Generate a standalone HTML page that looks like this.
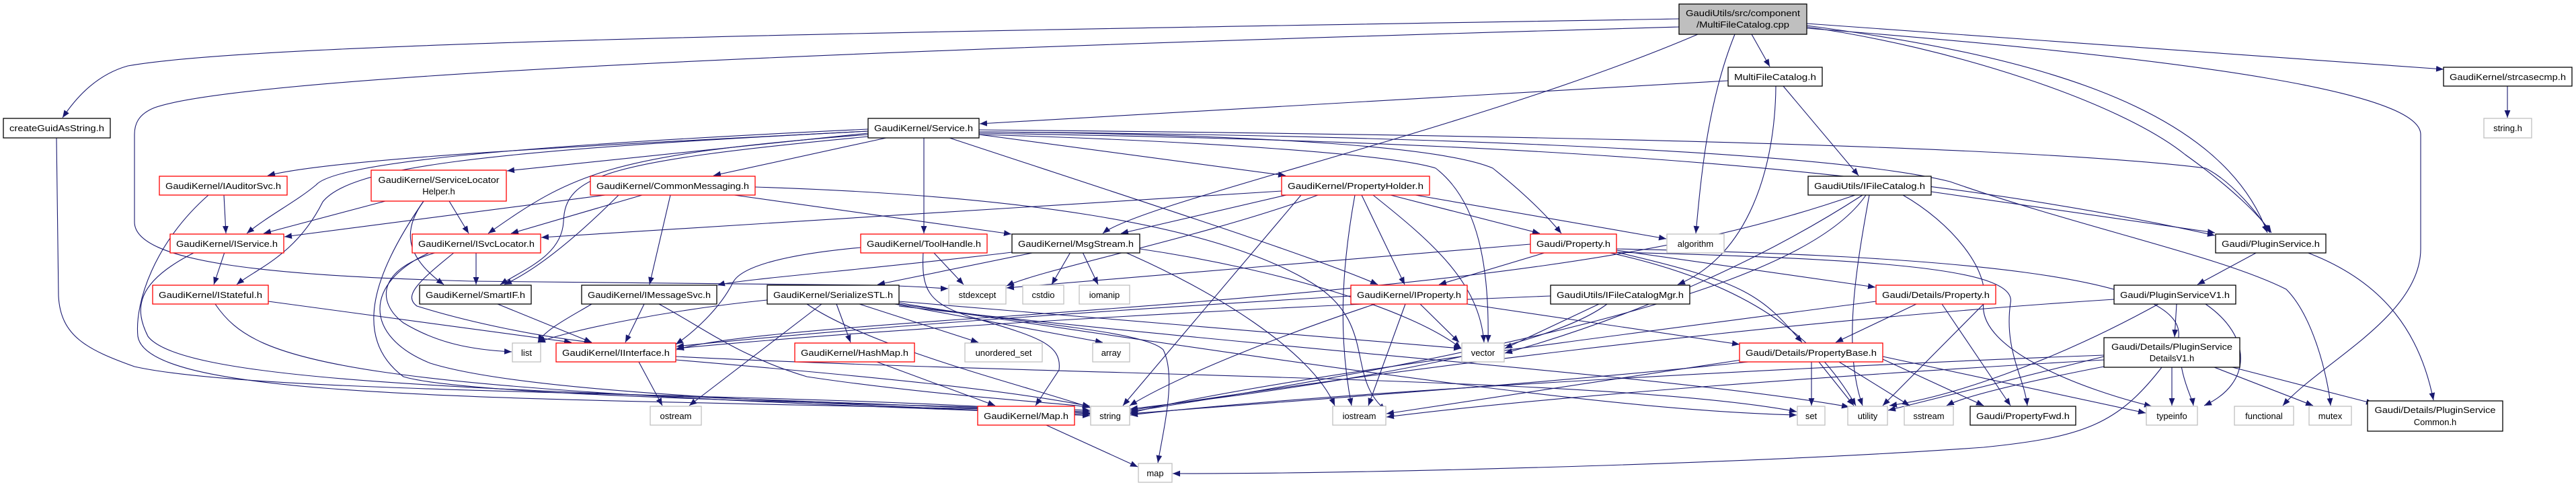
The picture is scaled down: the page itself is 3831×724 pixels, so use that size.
<!DOCTYPE html>
<html><head><meta charset="utf-8"><style>
html,body{margin:0;padding:0;background:#fff;width:3831px;height:724px;overflow:hidden}
svg text{font-family:"Liberation Sans",sans-serif;font-size:13px;fill:#000}
</style></head><body>
<svg width="3831" height="724" viewBox="0 0 3831 724" xmlns="http://www.w3.org/2000/svg">
<defs><marker id="a" viewBox="0 0 10 8" refX="10" refY="4" markerWidth="11" markerHeight="9" markerUnits="userSpaceOnUse" orient="auto"><path d="M0,0 L10,4 L0,8 z" fill="#191970"/></marker></defs>
<g fill="none" stroke="#191970" stroke-width="1.1" marker-end="url(#a)">
<path d="M2497,28 C1500,45 400,60 190,98 C140,112 110,150 93,175"/>
<path d="M2497,40 C1800,60 400,100 230,160 C205,170 200,185 200,200 L200,330 C200,390 400,410 700,418 L1300,424 C1380,426 1400,429 1410,429"/>
<path d="M2525,51 C2200,190 1700,300 1640,347"/>
<path d="M2580,51 C2540,150 2530,260 2522,347"/>
<path d="M2605,51 L2632,99"/>
<path d="M2687,35 L3634,103"/>
<path d="M2687,38 C3000,80 3300,150 3372,346"/>
<path d="M2687,40 C2900,70 3150,150 3250,230 C3320,280 3360,320 3378,346"/>
<path d="M2687,42 C3300,90 3600,140 3600,200 L3600,370 C3600,470 3450,540 3395,603"/>
<path d="M2570,120 L1457,184"/>
<path d="M2652,128 L2764,261"/>
<path d="M2641,128 C2640,250 2600,380 2495,423"/>
<path d="M1291,195 C900,215 500,235 398,261"/>
<path d="M1291,198 L754,254"/>
<path d="M1291,192 C800,215 500,240 470,275 C440,300 400,320 367,347"/>
<path d="M1291,195 C700,225 520,250 480,300 C440,380 380,400 352,423"/>
<path d="M1291,200 C900,230 850,260 726,347"/>
<path d="M1291,203 C900,240 840,260 838,330 C835,380 780,400 744,423"/>
<path d="M1318,205 L1061,261"/>
<path d="M1374,205 L1374,347"/>
<path d="M1456,200 L1912,261"/>
<path d="M1412,205 C1700,300 1950,380 2049,423"/>
<path d="M1456,200 C1800,210 2070,230 2135,250 C2200,300 2215,400 2213,509"/>
<path d="M1456,196 C1900,200 2150,220 2220,250 C2270,290 2300,320 2322,347"/>
<path d="M1456,193 C2200,200 3000,215 3280,250 C3320,270 3360,320 3376,346"/>
<path d="M1456,196 C2000,200 2700,220 2900,270 C3100,340 3300,380 3400,430 C3440,470 3462,560 3466,603"/>
<path d="M1456,198 C2200,210 2800,240 3294,350"/>
<path d="M1906,284 L805,353"/>
<path d="M1913,290 L1667,347"/>
<path d="M1935,290 L1670,603"/>
<path d="M2025,290 L2089,423"/>
<path d="M2068,290 L2290,347"/>
<path d="M2105,290 L2478,355"/>
<path d="M2015,290 C1995,400 1990,500 2010,603"/>
<path d="M2042,290 C2130,360 2200,420 2207,509"/>
<path d="M1960,290 C1800,350 1550,400 1497,425"/>
<path d="M1505,375 C1300,400 1100,415 1067,424"/>
<path d="M900,290 L423,352"/>
<path d="M955,290 L760,347"/>
<path d="M920,290 C860,350 800,400 750,423"/>
<path d="M997,290 L966,423"/>
<path d="M1092,290 L1504,348"/>
<path d="M1123,278 C1500,290 1800,330 1950,420 C2050,480 2000,560 2061,610"/>
<path d="M573,299 L392,347"/>
<path d="M668,299 L697,347"/>
<path d="M630,299 C600,340 600,380 660,423"/>
<path d="M630,299 C560,400 520,500 600,560 C700,590 1300,600 1621,610"/>
<path d="M310,290 C230,360 200,450 205,500 C220,600 800,590 1621,612"/>
<path d="M333,290 L336,347"/>
<path d="M290,375 C200,420 200,460 220,500 C280,580 900,580 1621,614"/>
<path d="M334,375 L318,423"/>
<path d="M399,448 L850,509"/>
<path d="M320,452 C380,540 500,580 1621,616"/>
<path d="M708,375 L708,423"/>
<path d="M650,375 C560,400 560,450 600,480 C650,510 700,520 761,523"/>
<path d="M640,375 C540,420 540,500 640,540 C800,590 1300,600 1621,618"/>
<path d="M676,375 C620,420 600,440 620,455 C700,480 800,500 880,509"/>
<path d="M740,452 L880,509"/>
<path d="M958,452 L930,509"/>
<path d="M980,452 C1050,490 1100,530 1200,560 C1400,590 1600,600 1621,606"/>
<path d="M880,452 C850,470 810,490 800,509"/>
<path d="M950,538 L985,603"/>
<path d="M1005,535 C1300,560 1500,580 1621,604"/>
<path d="M1005,530 C1600,560 2400,560 2672,612"/>
<path d="M1388,375 L1433,423"/>
<path d="M1280,368 C1150,380 1100,400 1090,420 C1070,460 1030,495 1005,512"/>
<path d="M1373,375 C1370,430 1380,450 1440,470 C1540,500 1580,510 1575,550 L1540,603"/>
<path d="M1540,375 L1305,423"/>
<path d="M1592,375 L1564,423"/>
<path d="M1610,375 L1633,423"/>
<path d="M1673,375 C1800,430 1950,520 1985,603"/>
<path d="M1695,370 C1900,400 2100,460 2173,518"/>
<path d="M1244,452 L1265,509"/>
<path d="M1278,452 L1455,509"/>
<path d="M1320,450 L1640,509"/>
<path d="M1222,452 L1025,603"/>
<path d="M1337,450 C1500,480 1700,490 1730,520 C1750,560 1730,640 1722,688"/>
<path d="M1337,448 L2173,518"/>
<path d="M1141,446 C1000,460 850,490 800,509"/>
<path d="M1200,452 C1300,520 1550,580 1621,606"/>
<path d="M1337,452 C2000,550 2400,610 2672,617"/>
<path d="M1337,455 C1900,520 2500,560 2750,605"/>
<path d="M1304,538 L1480,603"/>
<path d="M1556,632 L1692,694"/>
<path d="M2300,375 L2140,423"/>
<path d="M2404,372 L2789,427"/>
<path d="M2404,375 C2600,420 2620,440 2680,509"/>
<path d="M2404,375 C2800,385 3000,400 2990,450 C2980,520 3010,560 3015,603"/>
<path d="M2276,363 L1497,428"/>
<path d="M2390,375 C2600,420 2700,500 2760,603"/>
<path d="M2404,370 C2900,380 3250,410 3240,500 C3240,560 3260,590 3262,603"/>
<path d="M2112,452 L2170,509"/>
<path d="M2090,452 L2035,603"/>
<path d="M2045,452 C1900,500 1750,560 1680,603"/>
<path d="M2182,452 L2587,512"/>
<path d="M2009,440 C1500,470 1200,495 1006,515"/>
<path d="M2378,452 L2238,518"/>
<path d="M2390,452 C2300,520 2000,570 1681,608"/>
<path d="M2306,440 C1800,460 1300,490 1006,518"/>
<path d="M2872,285 L3294,346"/>
<path d="M2759,290 C2500,380 2200,420 1500,470 C1200,490 1050,505 1006,520"/>
<path d="M2770,290 C2600,400 2400,480 2238,525"/>
<path d="M2775,290 C2700,400 2400,500 1681,612"/>
<path d="M2830,290 C2900,330 2960,400 2950,450 C2940,520 3100,580 3200,604"/>
<path d="M2780,290 C2760,400 2740,520 2770,603"/>
<path d="M2850,452 L2730,509"/>
<path d="M2950,452 L2800,603"/>
<path d="M2888,452 L2990,603"/>
<path d="M2790,448 C2400,500 1900,560 1681,614"/>
<path d="M2694,538 L2694,603"/>
<path d="M2705,538 L2757,603"/>
<path d="M2735,538 L2840,603"/>
<path d="M2800,534 L2950,603"/>
<path d="M2800,530 L3191,614"/>
<path d="M2600,538 C2300,570 2000,590 1681,615"/>
<path d="M2590,535 L2062,615"/>
<path d="M3357,375 L3268,423"/>
<path d="M3430,375 C3550,420 3600,500 3619,595"/>
<path d="M3237,452 L3234,501"/>
<path d="M3280,452 C3350,500 3350,570 3278,603"/>
<path d="M3144,445 C2600,480 2000,560 1681,610"/>
<path d="M3210,452 C3050,540 2900,590 2810,603"/>
<path d="M3230,546 L3230,603"/>
<path d="M3293,546 L3440,603"/>
<path d="M3320,546 L3530,600"/>
<path d="M3215,546 C3150,630 3100,650 2950,665 C2600,690 2000,705 1744,704"/>
<path d="M3129,528 C2800,540 2000,580 1681,617"/>
<path d="M3129,530 L2808,610"/>
<path d="M3129,545 C3000,570 2920,590 2895,603"/>
<path d="M3129,535 C2700,560 2300,590 2062,620"/>
<path d="M3729,128 L3729,175"/>
<path d="M84,205 L87,440 C90,500 130,520 200,545 C400,590 1200,580 1621,615"/>
</g>
<g stroke-width="1.3">
<rect x="5" y="176" width="159" height="29" fill="#fff" stroke="#000"/><text x="84.5" y="195" text-anchor="middle" textLength="141" lengthAdjust="spacingAndGlyphs">createGuidAsString.h</text>
<rect x="237" y="262" width="190" height="28" fill="#fff" stroke="#f00"/><text x="332" y="281" text-anchor="middle" textLength="172" lengthAdjust="spacingAndGlyphs">GaudiKernel/IAuditorSvc.h</text>
<rect x="552" y="253" width="201" height="46" fill="#fff" stroke="#f00"/><text x="652.5" y="272" text-anchor="middle" textLength="180" lengthAdjust="spacingAndGlyphs">GaudiKernel/ServiceLocator</text><text x="652.5" y="289" text-anchor="middle">Helper.h</text>
<rect x="253" y="348" width="169" height="28" fill="#fff" stroke="#f00"/><text x="337.5" y="367" text-anchor="middle" textLength="151" lengthAdjust="spacingAndGlyphs">GaudiKernel/IService.h</text>
<rect x="613" y="348" width="191" height="28" fill="#fff" stroke="#f00"/><text x="708.5" y="367" text-anchor="middle" textLength="173" lengthAdjust="spacingAndGlyphs">GaudiKernel/ISvcLocator.h</text>
<rect x="227" y="424" width="172" height="28" fill="#fff" stroke="#f00"/><text x="313" y="443" text-anchor="middle" textLength="154" lengthAdjust="spacingAndGlyphs">GaudiKernel/IStateful.h</text>
<rect x="624" y="424" width="166" height="28" fill="#fff" stroke="#000"/><text x="707" y="443" text-anchor="middle" textLength="148" lengthAdjust="spacingAndGlyphs">GaudiKernel/SmartIF.h</text>
<rect x="762" y="510" width="42" height="28" fill="#fff" stroke="#bfbfbf"/><text x="783" y="529" text-anchor="middle">list</text>
<rect x="827" y="510" width="178" height="28" fill="#fff" stroke="#f00"/><text x="916" y="529" text-anchor="middle" textLength="160" lengthAdjust="spacingAndGlyphs">GaudiKernel/IInterface.h</text>
<rect x="878" y="262" width="245" height="28" fill="#fff" stroke="#f00"/><text x="1000.5" y="281" text-anchor="middle" textLength="227" lengthAdjust="spacingAndGlyphs">GaudiKernel/CommonMessaging.h</text>
<rect x="865" y="424" width="201" height="28" fill="#fff" stroke="#000"/><text x="965.5" y="443" text-anchor="middle" textLength="183" lengthAdjust="spacingAndGlyphs">GaudiKernel/IMessageSvc.h</text>
<rect x="1291" y="176" width="165" height="29" fill="#fff" stroke="#000"/><text x="1373.5" y="195" text-anchor="middle" textLength="147" lengthAdjust="spacingAndGlyphs">GaudiKernel/Service.h</text>
<rect x="1280" y="348" width="188" height="28" fill="#fff" stroke="#f00"/><text x="1374" y="367" text-anchor="middle" textLength="170" lengthAdjust="spacingAndGlyphs">GaudiKernel/ToolHandle.h</text>
<rect x="1505" y="348" width="190" height="28" fill="#fff" stroke="#000"/><text x="1600" y="367" text-anchor="middle" textLength="172" lengthAdjust="spacingAndGlyphs">GaudiKernel/MsgStream.h</text>
<rect x="1141" y="424" width="196" height="28" fill="#fff" stroke="#000"/><text x="1239" y="443" text-anchor="middle" textLength="178" lengthAdjust="spacingAndGlyphs">GaudiKernel/SerializeSTL.h</text>
<rect x="1411" y="424" width="85" height="28" fill="#fff" stroke="#bfbfbf"/><text x="1453.5" y="443" text-anchor="middle">stdexcept</text>
<rect x="1521" y="424" width="61" height="28" fill="#fff" stroke="#bfbfbf"/><text x="1551.5" y="443" text-anchor="middle">cstdio</text>
<rect x="1605" y="424" width="75" height="28" fill="#fff" stroke="#bfbfbf"/><text x="1642.5" y="443" text-anchor="middle">iomanip</text>
<rect x="1182" y="510" width="178" height="28" fill="#fff" stroke="#f00"/><text x="1271" y="529" text-anchor="middle" textLength="160" lengthAdjust="spacingAndGlyphs">GaudiKernel/HashMap.h</text>
<rect x="1435" y="510" width="115" height="28" fill="#fff" stroke="#bfbfbf"/><text x="1492.5" y="529" text-anchor="middle">unordered_set</text>
<rect x="1625" y="510" width="55" height="28" fill="#fff" stroke="#bfbfbf"/><text x="1652.5" y="529" text-anchor="middle">array</text>
<rect x="967" y="604" width="76" height="28" fill="#fff" stroke="#bfbfbf"/><text x="1005" y="623" text-anchor="middle">ostream</text>
<rect x="1454" y="604" width="144" height="28" fill="#fff" stroke="#f00"/><text x="1526" y="623" text-anchor="middle" textLength="126" lengthAdjust="spacingAndGlyphs">GaudiKernel/Map.h</text>
<rect x="1622" y="604" width="58" height="28" fill="#fff" stroke="#bfbfbf"/><text x="1651" y="623" text-anchor="middle">string</text>
<rect x="1693" y="689" width="50" height="28" fill="#fff" stroke="#bfbfbf"/><text x="1718" y="708" text-anchor="middle">map</text>
<rect x="2497" y="6" width="190" height="45" fill="#bfbfbf" stroke="#000"/><text x="2592" y="24" text-anchor="middle" textLength="170" lengthAdjust="spacingAndGlyphs">GaudiUtils/src/component</text><text x="2592" y="41" text-anchor="middle" textLength="138" lengthAdjust="spacingAndGlyphs">/MultiFileCatalog.cpp</text>
<rect x="2570" y="100" width="140" height="28" fill="#fff" stroke="#000"/><text x="2640" y="119" text-anchor="middle" textLength="122" lengthAdjust="spacingAndGlyphs">MultiFileCatalog.h</text>
<rect x="1906" y="262" width="220" height="28" fill="#fff" stroke="#f00"/><text x="2016" y="281" text-anchor="middle" textLength="202" lengthAdjust="spacingAndGlyphs">GaudiKernel/PropertyHolder.h</text>
<rect x="2689" y="262" width="183" height="28" fill="#fff" stroke="#000"/><text x="2780.5" y="281" text-anchor="middle" textLength="165" lengthAdjust="spacingAndGlyphs">GaudiUtils/IFileCatalog.h</text>
<rect x="2276" y="348" width="128" height="28" fill="#fff" stroke="#f00"/><text x="2340" y="367" text-anchor="middle" textLength="110" lengthAdjust="spacingAndGlyphs">Gaudi/Property.h</text>
<rect x="2479" y="348" width="85" height="28" fill="#fff" stroke="#bfbfbf"/><text x="2521.5" y="367" text-anchor="middle">algorithm</text>
<rect x="2009" y="424" width="173" height="28" fill="#fff" stroke="#f00"/><text x="2095.5" y="443" text-anchor="middle" textLength="155" lengthAdjust="spacingAndGlyphs">GaudiKernel/IProperty.h</text>
<rect x="2306" y="424" width="207" height="28" fill="#fff" stroke="#000"/><text x="2409.5" y="443" text-anchor="middle" textLength="189" lengthAdjust="spacingAndGlyphs">GaudiUtils/IFileCatalogMgr.h</text>
<rect x="2790" y="424" width="178" height="28" fill="#fff" stroke="#f00"/><text x="2879" y="443" text-anchor="middle" textLength="160" lengthAdjust="spacingAndGlyphs">Gaudi/Details/Property.h</text>
<rect x="2174" y="510" width="63" height="28" fill="#fff" stroke="#bfbfbf"/><text x="2205.5" y="529" text-anchor="middle">vector</text>
<rect x="2587" y="510" width="213" height="28" fill="#fff" stroke="#f00"/><text x="2693.5" y="529" text-anchor="middle" textLength="195" lengthAdjust="spacingAndGlyphs">Gaudi/Details/PropertyBase.h</text>
<rect x="1982" y="604" width="79" height="28" fill="#fff" stroke="#bfbfbf"/><text x="2021.5" y="623" text-anchor="middle">iostream</text>
<rect x="2673" y="604" width="41" height="28" fill="#fff" stroke="#bfbfbf"/><text x="2693.5" y="623" text-anchor="middle">set</text>
<rect x="2748" y="604" width="59" height="28" fill="#fff" stroke="#bfbfbf"/><text x="2777.5" y="623" text-anchor="middle">utility</text>
<rect x="2832" y="604" width="73" height="28" fill="#fff" stroke="#bfbfbf"/><text x="2868.5" y="623" text-anchor="middle">sstream</text>
<rect x="3634" y="100" width="191" height="28" fill="#fff" stroke="#000"/><text x="3729.5" y="119" text-anchor="middle" textLength="173" lengthAdjust="spacingAndGlyphs">GaudiKernel/strcasecmp.h</text>
<rect x="3694" y="176" width="71" height="29" fill="#fff" stroke="#bfbfbf"/><text x="3729.5" y="195" text-anchor="middle">string.h</text>
<rect x="3295" y="348" width="164" height="28" fill="#fff" stroke="#000"/><text x="3377" y="367" text-anchor="middle" textLength="146" lengthAdjust="spacingAndGlyphs">Gaudi/PluginService.h</text>
<rect x="3144" y="424" width="181" height="28" fill="#fff" stroke="#000"/><text x="3234.5" y="443" text-anchor="middle" textLength="163" lengthAdjust="spacingAndGlyphs">Gaudi/PluginServiceV1.h</text>
<rect x="3129" y="502" width="202" height="44" fill="#fff" stroke="#000"/><text x="3230" y="520" text-anchor="middle" textLength="180" lengthAdjust="spacingAndGlyphs">Gaudi/Details/PluginService</text><text x="3230" y="537" text-anchor="middle">DetailsV1.h</text>
<rect x="2930" y="604" width="157" height="28" fill="#fff" stroke="#000"/><text x="3008.5" y="623" text-anchor="middle" textLength="139" lengthAdjust="spacingAndGlyphs">Gaudi/PropertyFwd.h</text>
<rect x="3192" y="604" width="76" height="28" fill="#fff" stroke="#bfbfbf"/><text x="3230" y="623" text-anchor="middle">typeinfo</text>
<rect x="3323" y="604" width="88" height="28" fill="#fff" stroke="#bfbfbf"/><text x="3367" y="623" text-anchor="middle">functional</text>
<rect x="3434" y="604" width="63" height="28" fill="#fff" stroke="#bfbfbf"/><text x="3465.5" y="623" text-anchor="middle">mutex</text>
<rect x="3521" y="596" width="201" height="45" fill="#fff" stroke="#000"/><text x="3621.5" y="614" text-anchor="middle" textLength="180" lengthAdjust="spacingAndGlyphs">Gaudi/Details/PluginService</text><text x="3621.5" y="632" text-anchor="middle">Common.h</text>
</g>
</svg>
</body></html>
